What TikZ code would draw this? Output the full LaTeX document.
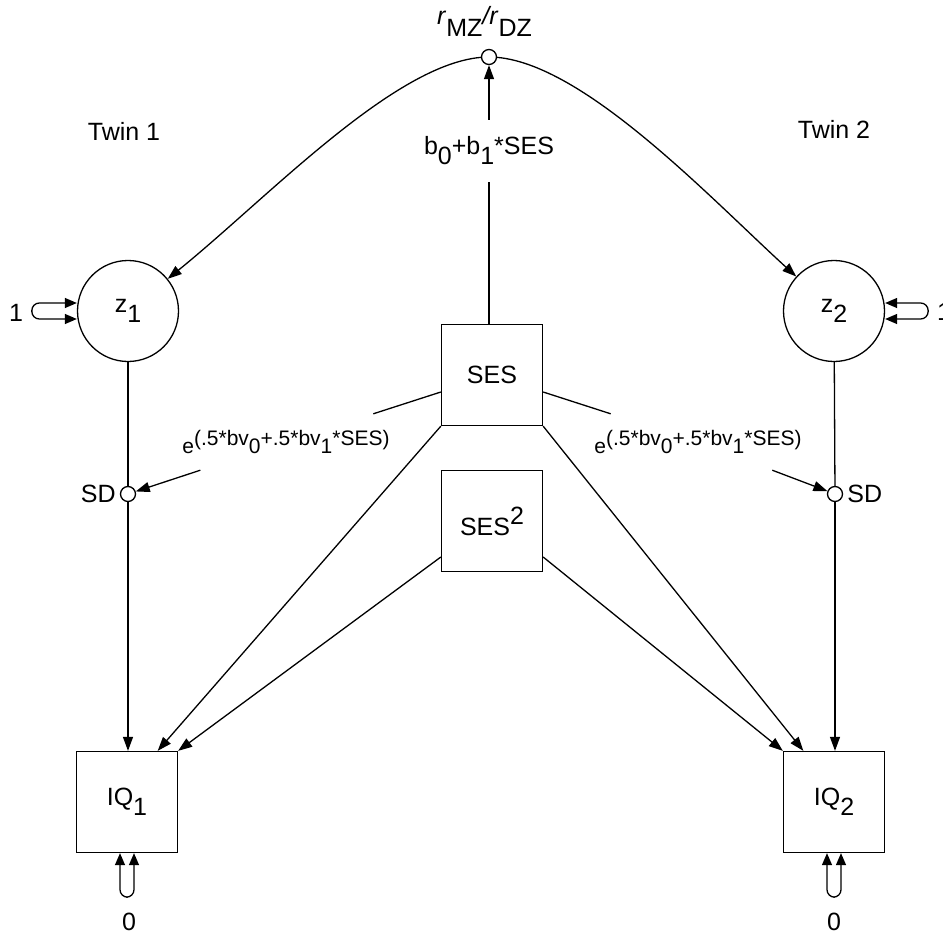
\documentclass[tikz,border=0pt]{standalone}
\usepackage{fontspec}
\setmainfont{Liberation Sans}
\usetikzlibrary{arrows.meta,calc}
\newcommand{\lo}[1]{\raisebox{-10pt}{#1}}
\newcommand{\hi}[1]{\raisebox{11pt}{#1}}
\begin{document}
\begin{tikzpicture}[x=1pt,y=-1pt,
  every node/.style={font=\fontsize{25}{30}\selectfont},
  ln/.style={line width=1.3pt},
  arr/.style={ln,-{Triangle[length=14pt,width=10pt]}},
  dbl/.style={ln,{Triangle[length=12pt,width=10pt]}-{Triangle[length=12pt,width=10pt]},rounded corners=7.5pt},
  box/.style={draw,line width=1.3pt,minimum width=101pt,minimum height=101pt,inner sep=0pt},
  lat/.style={draw,circle,line width=1.3pt,minimum size=101pt,inner sep=0pt},
  dot/.style={draw,circle,fill=white,line width=1.3pt,minimum size=15pt,inner sep=0pt},
  lab/.style={inner sep=0pt,minimum height=56pt},
]
\useasboundingbox (0,0) rectangle (943,934);

% nodes
\node[box] (SES) at (492,375) {SES};
\node[box] (SES2) at (492,521) {SES\hi{2}};
\node[lat] (Z1) at (128,311) {z\lo{1}};
\node[lat] (Z2) at (834,311) {z\lo{2}};
\node[box] (IQ1) at (127,802) {IQ\lo{1}};
\node[box] (IQ2) at (834,802) {IQ\lo{2}};
\node[dot] (SD1) at (128,494) {};
\node[dot] (SD2) at (835,494) {};
\node[anchor=east,inner sep=0pt] (sdl1) at ($(SD1.west)+(-4,0)$) {SD};
\node[anchor=west,inner sep=0pt] (sdl2) at ($(SD2.east)+(4,0)$) {SD};
\node (tw1) at (124,131) {Twin 1};
\node (tw2) at (834,129) {Twin 2};
\node[inner sep=0pt,minimum height=62pt] (blab) at (489,151) {b\lo{0}+b\lo{1}*SES};
\node[lab] (eL) at (286,442) {\fontsize{21}{25}\selectfont e\raisebox{8pt}{(.5*bv\raisebox{-8pt}{0}+.5*bv\raisebox{-8pt}{1}*SES)}};
\node[lab] (eR) at (698,442) {\fontsize{21}{25}\selectfont e\raisebox{8pt}{(.5*bv\raisebox{-8pt}{0}+.5*bv\raisebox{-8pt}{1}*SES)}};
\node[anchor=base west,inner sep=0pt] (rlab) at (437,25) {\textit{r}\raisebox{-12pt}{MZ}\textit{/r}\raisebox{-12pt}{DZ}};
\node[anchor=base,inner sep=0pt] (one1) at (16,321) {1};
\node[anchor=base west,inner sep=0pt] (one2) at (937,320) {1};
\node[anchor=base,inner sep=0pt] (zero1) at (129,930) {0};
\node[anchor=base,inner sep=0pt] (zero2) at (834,930) {0};

% correlation curve
\draw[arr] (489,57) .. controls (400,57) and (270,196) .. (Z1);
\draw[arr] (489,57) .. controls (578,57) and (708,196) .. (Z2);
\node[dot] (top) at (489,57) {};

% SES to correlation
\draw[ln] (SES.north -| blab) -- (blab);
\draw[arr] (blab) -- (top);

% SES to SD
\draw[ln] ($(SES.west)+(0,17)$) -- (eL);
\draw[arr] (eL) -- (SD1);
\draw[ln] ($(SES.east)+(0,17)$) -- (eR);
\draw[arr] (eR) -- (SD2);

% Z to SD to IQ
\draw[ln] (Z1) -- (SD1);
\draw[arr] (SD1) -- (SD1 |- IQ1.north);
\draw[ln] (Z2) -- (SD2);
\draw[arr] (SD2) -- (SD2 |- IQ2.north);

% SES, SES2 to IQ
\draw[arr] (SES.south west) -- ($(IQ1.north)!0.6!(IQ1.north east)$);
\draw[arr] ($(SES2.west)+(0,36)$) -- (IQ1.north east);
\draw[arr] (SES.south east) -- ($(IQ2.north)!0.6!(IQ2.north west)$);
\draw[arr] ($(SES2.east)+(0,36)$) -- (IQ2.north west);

% self loops
\draw[dbl] ($(Z1.west)+(0,-8)$) -- ($(Z1.west)+(-45,-8)$) -- ($(Z1.west)+(-45,8)$) -- ($(Z1.west)+(0,8)$);
\draw[dbl] ($(Z2.east)+(0,-8)$) -- ($(Z2.east)+(43,-8)$) -- ($(Z2.east)+(43,8)$) -- ($(Z2.east)+(0,8)$);
\draw[dbl] ($(IQ1.south)+(-7,0)$) -- ($(IQ1.south)+(-7,44)$) -- ($(IQ1.south)+(7,44)$) -- ($(IQ1.south)+(7,0)$);
\draw[dbl] ($(IQ2.south)+(-7,0)$) -- ($(IQ2.south)+(-7,44)$) -- ($(IQ2.south)+(7,44)$) -- ($(IQ2.south)+(7,0)$);
\end{tikzpicture}
\end{document}
